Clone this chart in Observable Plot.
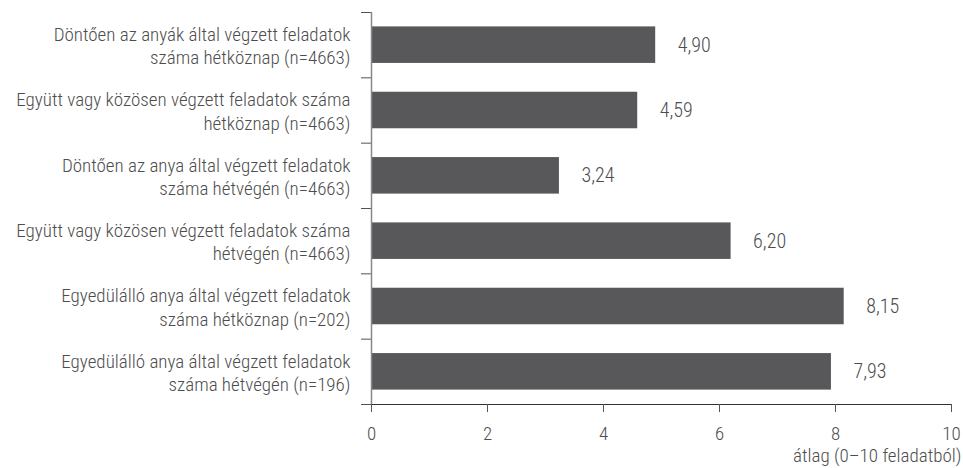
<!DOCTYPE html>
<html><head><meta charset="utf-8">
<script src="https://cdn.jsdelivr.net/npm/d3@7"></script>
<script src="https://cdn.jsdelivr.net/npm/@observablehq/plot@0.6"></script>
<style>body{margin:0;background:#fff}</style>
</head><body><div id="chart"></div>
<script>
const categories = [
  "Döntően az anyák által végzett feladatok\nszáma hétköznap (n=4663)",
  "Együtt vagy közösen végzett feladatok száma\nhétköznap (n=4663)",
  "Döntően az anya által végzett feladatok\nszáma hétvégén (n=4663)",
  "Együtt vagy közösen végzett feladatok száma\nhétvégén (n=4663)",
  "Egyedülálló anya által végzett feladatok\nszáma hétköznap (n=202)",
  "Egyedülálló anya által végzett feladatok\nszáma hétvégén (n=196)"
];
const values = [4.90, 4.59, 3.24, 6.20, 8.15, 7.93];
const xTicks = [0, 2, 4, 6, 8, 10];
const axisTitle = "átlag (0–10 feladatból)";

const data = categories.map((c, i) => ({i, label: c, value: values[i]}));
const fmt = v => v.toFixed(2).replace(".", ",");

const TXT = "#4d4d4d";
const FONT = '"Roboto Condensed", "Liberation Sans Narrow", Roboto, sans-serif';
const plot = Plot.plot({
  width: 963, height: 468,
  marginLeft: 371, marginRight: 12, marginTop: 12, marginBottom: 64,
  style: {fontFamily: FONT, fontSize: "19px", color: TXT, fontWeight: 300},
  x: {domain: [0, 10]},
  y: {domain: [0, 6], reverse: true},
  marks: [
    Plot.rect(data, {x1: 0, x2: "value", y1: "i", y2: d => d.i + 1, insetTop: 14.4, insetBottom: 14.4, fill: "#58585a"}),
    Plot.text(data, {x: "value", y: d => d.i + 0.5, text: d => fmt(d.value), dx: 22, textAnchor: "start", fill: TXT, fontSize: 20}),
    Plot.text(data, {x: 0, y: d => d.i + 0.5, text: "label", textAnchor: "end", dx: -21, lineHeight: 1.22, fill: TXT}),
    Plot.axisY({ticks: d3.range(7), tickSize: 10, tickFormat: () => "", label: null, stroke: "#555"}),
    Plot.ruleX([0], {stroke: "#888", strokeWidth: 1.5}),
    Plot.ruleY([6], {stroke: "#333"}),
    Plot.axisX({ticks: xTicks, tickSize: 8, tickPadding: 14, label: null, stroke: "#555", fontSize: 19}),
    Plot.text([axisTitle], {frameAnchor: "bottom-right", dx: 10, dy: 57, textAnchor: "end", fill: TXT})
  ]
});
document.getElementById("chart").append(plot);
</script></body></html>
